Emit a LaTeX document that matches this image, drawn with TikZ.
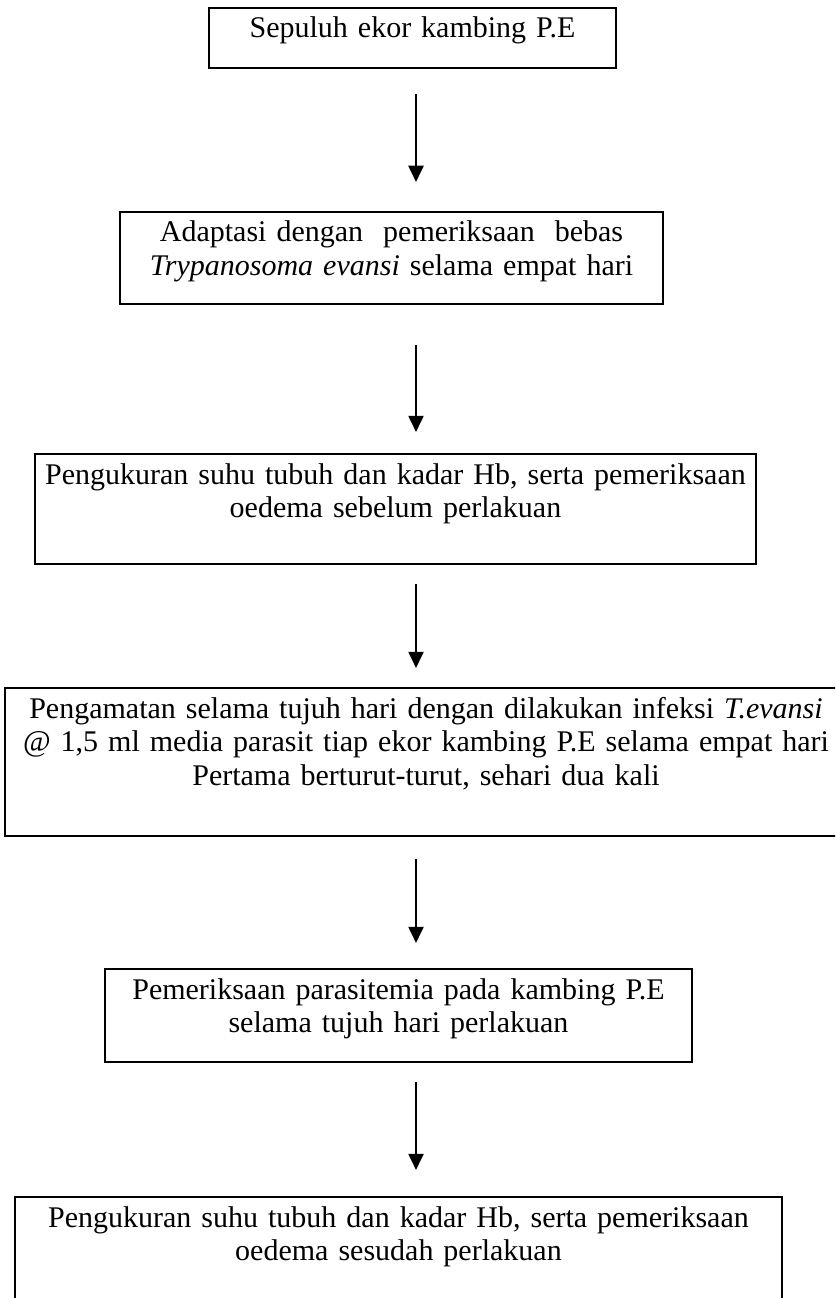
\documentclass[tikz,border=0pt]{standalone}
\usepackage{fontspec}
\setmainfont{Liberation Serif}
\usetikzlibrary{arrows.meta}
\tikzset{
  stage/.style={draw, line width=0.8pt, anchor=north, align=center,
    inner xsep=4pt, inner ysep=4pt, text height=8pt,
    font=\fontsize{12}{13.4}\selectfont},
  flow/.style={-{Triangle[width=6pt,length=6.5pt]}, line width=1pt}
}
\begin{document}
\begin{tikzpicture}[x=0.4pt,y=-0.4pt]
      \useasboundingbox (0,0) rectangle (835,1298);
      \clip (0,0) rectangle (835,1298);
      \coordinate (s) at (416,0);
      \draw
        (412.5,7) node[stage,text width=154.8pt,text depth=8pt] (0){Sepuluh ekor kambing P.E}
        (391.5,211) node[stage,text width=209.2pt,text depth=20.8pt] (1){Adaptasi dengan\ \ pemeriksaan\ \ bebas\\\textit{Trypanosoma evansi} selama empat hari}
        (395.5,453) node[stage,text width=280.4pt,text depth=28pt] (2){Pengukuran suhu tubuh dan kadar Hb, serta pemeriksaan\\oedema sebelum perlakuan}
        (426,687) node[stage,text width=328.8pt,text depth=43.2pt] (3){Pengamatan selama tujuh hari dengan dilakukan infeksi \textit{T.evansi}\\@ 1,5 ml media parasit tiap ekor kambing P.E selama empat hari\\Pertama berturut-turut, sehari dua kali}
        (398.5,968) node[stage,text width=226.8pt,text depth=21.2pt] (4){Pemeriksaan parasitemia pada kambing P.E\\selama tujuh hari perlakuan}
        (398.5,1196) node[stage,text width=298.8pt,text depth=40pt] (5){Pengukuran suhu tubuh dan kadar Hb, serta pemeriksaan\\oedema sesudah perlakuan};
      \begin{scope}[flow]
        \draw[shorten <=10pt,shorten >=11.6pt] (0.south -| s) to (1.north -| s);
        \draw[shorten <=16pt,shorten >=8.4pt] (1.south -| s) to (2.north -| s);
        \draw[shorten <=7.6pt,shorten >=7.6pt] (2.south -| s) to (3.north -| s);
        \draw[shorten <=8.8pt,shorten >=10pt] (3.south -| s) to (4.north -| s);
        \draw[shorten <=7.6pt,shorten >=10.4pt] (4.south -| s) to (5.north -| s);
      \end{scope}
    \end{tikzpicture}
\end{document}
